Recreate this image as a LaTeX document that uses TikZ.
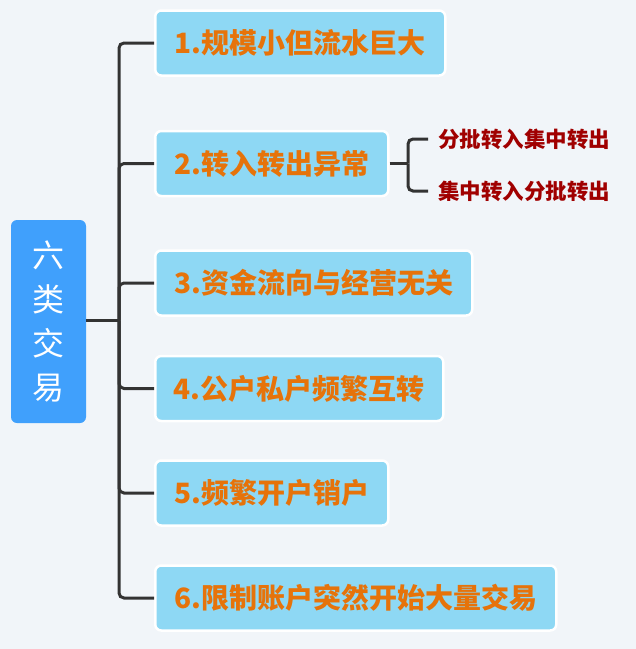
\documentclass[tikz,border=0pt]{standalone}
\usepackage{fontspec}
\newfontfamily\cjk{Noto Sans CJK SC}
\definecolor{bgc}{RGB}{241,245,249}
\definecolor{rootblue}{RGB}{64,160,252}
\definecolor{boxblue}{RGB}{142,216,244}
\definecolor{orangetxt}{RGB}{230,115,10}
\definecolor{darkred}{RGB}{160,0,0}
\definecolor{linec}{RGB}{51,51,51}
\tikzset{
  rootbox/.style={fill=rootblue, rounded corners=6pt, minimum width=75pt, minimum height=203pt, inner sep=0pt,
    align=center, text=white, font=\cjk\fontsize{32}{44}\selectfont},
  itembox/.style={fill=boxblue, draw=white, line width=2.5pt, rounded corners=6pt, minimum height=65pt, inner sep=0pt,
    anchor=west, text=orangetxt, font=\cjk\bfseries\fontsize{28}{32}\selectfont},
  subtxt/.style={anchor=west, inner xsep=10pt, inner ysep=2pt, text=darkred, font=\cjk\bfseries\fontsize{21.5}{24}\selectfont},
  conn/.style={draw=linec, line width=3pt, rounded corners=5pt}
}
\begin{document}
\begin{tikzpicture}[x=1pt,y=-1pt]
\useasboundingbox[fill=bgc] (0,0) rectangle (636,649);
\node[rootbox] (root) at (48.5,321.5) {六\\类\\交\\易};
\node[itembox, minimum width=290pt] (b1) at (154,43) {1.规模小但流水巨大};
\node[itembox, minimum width=233pt] (b2) at (154,163.5) {2.转入转出异常};
\node[itembox, minimum width=317pt] (b3) at (154,283) {3.资金流向与经营无关};
\node[itembox, minimum width=288pt] (b4) at (154,388.5) {4.公户私户频繁互转};
\node[itembox, minimum width=233pt] (b5) at (154,493) {5.频繁开户销户};
\node[itembox, minimum width=401pt] (b6) at (154,598) {6.限制账户突然开始大量交易};
\node[subtxt] (s1) at (428,139) {分批转入集中转出};
\node[subtxt] (s2) at (428,191) {集中转入分批转出};
\coordinate (trunk) at (119,320.5);
\coordinate (br) at (408,163.5);
\draw[conn] (root.east |- trunk) -- (trunk);
\foreach \b in {b1,b2,b3,b4,b5,b6}{
  \draw[conn] (trunk) |- (\b.west);
}
\draw[conn] (b2.east) -- (br);
\draw[conn] (br) |- (s1.west);
\draw[conn] (br) |- (s2.west);
\end{tikzpicture}
\end{document}
